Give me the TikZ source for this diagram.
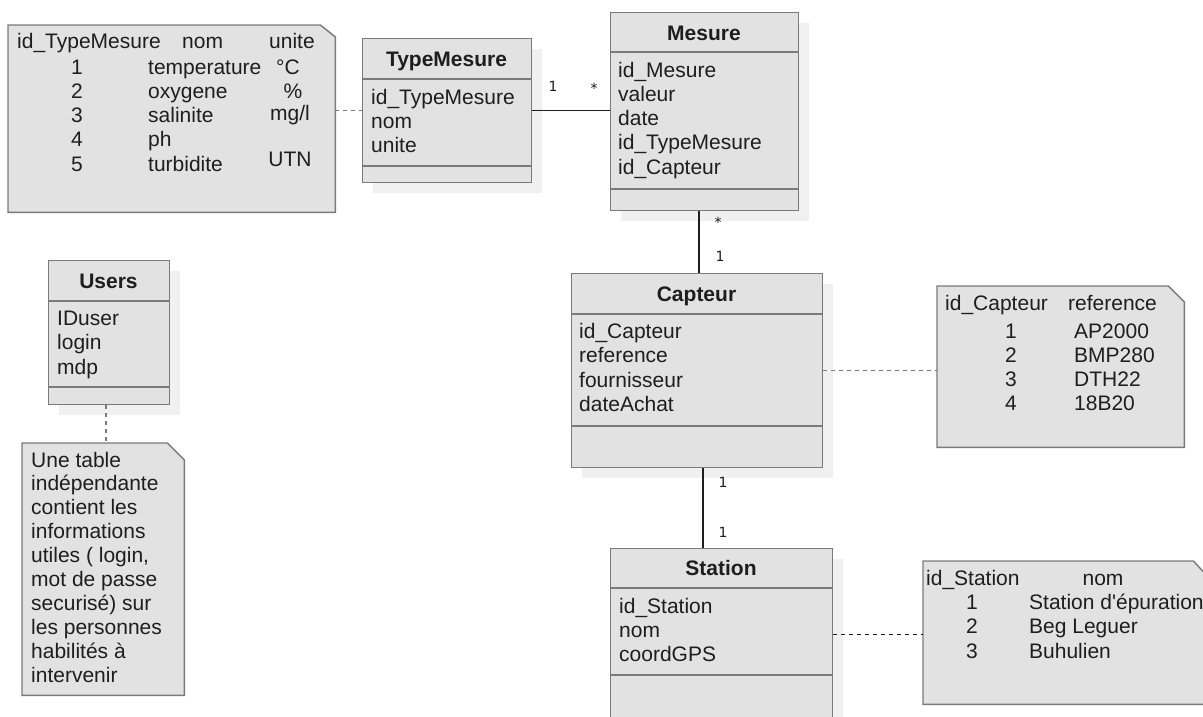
\documentclass[tikz,border=0pt]{standalone}
\usepackage{fontspec}
\setmainfont{Liberation Sans}
\newfontfamily\multfont{DejaVu Sans}
\usepackage{tikz}
\usetikzlibrary{shadows}

\definecolor{fond}{HTML}{E2E2E2}
\definecolor{bord}{HTML}{7A7A7A}
\definecolor{encre}{HTML}{1E1E1E}

\tikzset{
   classe/.style={draw=bord, line width=1.4pt, fill=fond, inner sep=0pt, anchor=north west,
      drop shadow={shadow xshift=10pt, shadow yshift=-10pt, fill=black!6, opacity=1}},
   sep/.style={draw=bord, line width=1.4pt},
   titre/.style={font=\fontsize{21}{24}\selectfont\bfseries, text=encre, anchor=base, inner sep=0pt},
   attr/.style={font=\fontsize{21}{24}\selectfont, text=encre, anchor=base west, inner sep=0pt},
   centre/.style={attr, anchor=base},
   note/.style={inner sep=0pt, anchor=north west},
   bordnote/.style={draw=bord, line width=1.4pt, fill=fond},
   assoc/.style={draw=encre, line width=1.4pt},
   lien/.style={draw=bord, line width=1.2pt, dash pattern=on 4pt off 4pt},
   mult/.style={font=\multfont\fontsize{14}{16}\selectfont, text=encre, inner sep=0pt}
}

\begin{document}
\begin{tikzpicture}[x=1pt, y=-1pt]
   \useasboundingbox (0,0) rectangle (1203,716);
   \fill[white] (0,0) rectangle (1203,716);
   \clip (0,0) rectangle (1203,716);
   %classes
   \node[classe, minimum width=169pt, minimum height=144pt] (typemesure) at (362,38) {};
   \draw[sep] (362,79) -- (531,79);
   \draw[sep] (362,166) -- (531,166);
   \node[titre] (tm-t) at (446.5,66) {TypeMesure};
   \node[attr] (tm-a1) at (371,104) {id\_TypeMesure};
   \node[attr] (tm-a2) at (371,128) {nom};
   \node[attr] (tm-a3) at (371,152) {unite};

   \node[classe, minimum width=188pt, minimum height=198pt] (mesure) at (610,12) {};
   \draw[sep] (610,52) -- (798,52);
   \draw[sep] (610,189) -- (798,189);
   \node[titre] (me-t) at (704,40) {Mesure};
   \foreach \att [count=\i] in {id\_Mesure,valeur,date,id\_TypeMesure,id\_Capteur}
      \node[attr] (me-a\i) at (618,{52.7+24.3*\i}) {\att};

   \node[classe, minimum width=121pt, minimum height=144pt] (users) at (48,260) {};
   \draw[sep] (48,301) -- (169,301);
   \draw[sep] (48,387) -- (169,387);
   \node[titre] (us-t) at (108.5,288) {Users};
   \foreach \att [count=\i] in {IDuser,login,mdp}
      \node[attr] (us-a\i) at (57,{300.5+24.5*\i}) {\att};

   \node[classe, minimum width=251pt, minimum height=194pt] (capteur) at (571,273) {};
   \draw[sep] (571,314) -- (822,314);
   \draw[sep] (571,426) -- (822,426);
   \node[titre] (ca-t) at (696.5,301) {Capteur};
   \foreach \att [count=\i] in {id\_Capteur,reference,fournisseur,dateAchat}
      \node[attr] (ca-a\i) at (579,{313.5+24.6*\i}) {\att};

   \node[classe, minimum width=222pt, minimum height=172pt] (station) at (610,548) {};
   \draw[sep] (610,588) -- (832,588);
   \draw[sep] (610,675) -- (832,675);
   \node[titre] (st-t) at (721,575) {Station};
   \foreach \att [count=\i] in {id\_Station,nom,coordGPS}
      \node[attr] (st-a\i) at (619,{588.7+24.3*\i}) {\att};

   %notes
   \node[note, minimum width=327pt, minimum height=187pt] (notetype) at (8,25) {};
   \draw[bordnote] (notetype.north west) -- ([xshift=-15pt]notetype.north east)
      -- ([yshift=-12pt]notetype.north east) -- (notetype.south east)
      -- (notetype.south west) -- cycle;
   \node[attr] (nt-h1) at (17,48) {id\_TypeMesure};
   \node[attr] (nt-h2) at (182,48) {nom};
   \node[attr] (nt-h3) at (269,48) {unite};
   \foreach \num/\nom [count=\i] in {1/temperature,2/oxygene,3/salinite,4/ph,5/turbidite}
   {
      \node[centre] (nt-n\i) at (77,{49.75+24.25*\i}) {\num};
      \node[attr] (nt-m\i) at (148,{49.75+24.25*\i}) {\nom};
   }
   \node[centre] (nt-u1) at (288,74) {°C};
   \node[centre] (nt-u2) at (293,98) {\%};
   \node[centre] (nt-u3) at (290,120) {mg/l};
   \node[centre] (nt-u5) at (290,166) {UTN};

   \node[note, minimum width=162pt, minimum height=252pt] (noteusers) at (22,443) {};
   \draw[bordnote] (noteusers.north west) -- ([xshift=-17pt]noteusers.north east)
      -- ([yshift=-17pt]noteusers.north east) -- (noteusers.south east)
      -- (noteusers.south west) -- cycle;
   \foreach \ligne [count=\i] in {Une table,indépendante,contient les,informations,
      {utiles ( login,},mot de passe,securisé) sur,les personnes,habilités à,intervenir}
      \node[attr] (nu-\i) at (31,{443.1+23.9*\i}) {\ligne};

   \node[note, minimum width=247pt, minimum height=161pt] (notecapteur) at (937,286) {};
   \draw[bordnote] (notecapteur.north west) -- ([xshift=-16pt]notecapteur.north east)
      -- ([yshift=-16pt]notecapteur.north east) -- (notecapteur.south east)
      -- (notecapteur.south west) -- cycle;
   \node[attr] (nc-h1) at (945,310) {id\_Capteur};
   \node[attr] (nc-h2) at (1068,310) {reference};
   \foreach \num/\ref [count=\i] in {1/AP2000,2/BMP280,3/DTH22,4/18B20}
   {
      \node[centre] (nc-n\i) at (1011,{313.7+24.3*\i}) {\num};
      \node[attr] (nc-r\i) at (1074,{313.7+24.3*\i}) {\ref};
   }

   \node[note, minimum width=283pt, minimum height=143pt] (notestation) at (923,561) {};
   \draw[bordnote] (notestation.north west) -- ([xshift=-13pt]notestation.north east)
      -- ([yshift=-14pt]notestation.north east) -- (notestation.south east)
      -- (notestation.south west) -- cycle;
   \node[attr] (ns-h1) at (926,585) {id\_Station};
   \node[centre] (ns-h2) at (1103,585) {nom};
   \foreach \num/\nom [count=\i] in {1/Station d\textquotesingle épuration,2/Beg Leguer,3/Buhulien}
   {
      \node[centre] (ns-n\i) at (972,{584.5+24.5*\i}) {\num};
      \node[attr] (ns-m\i) at (1029,{584.5+24.5*\i}) {\nom};
   }

   %associations
   \coordinate (axe1) at (699,0);
   \coordinate (axe2) at (703,0);
   \coordinate (axe3) at (106,0);
   \draw[assoc] (typemesure.east) -- (typemesure.east -| mesure.west);
   \draw[assoc] (mesure.south -| axe1) -- (capteur.north -| axe1);
   \draw[assoc] (capteur.south -| axe2) -- (station.north -| axe2);
   \node[mult] (m1) at (553,86) {1};
   \node[mult] (m2) at (594,88) {*};
   \node[mult] (m3) at (718,222) {*};
   \node[mult] (m4) at (720,256) {1};
   \node[mult] (m5) at (723,482) {1};
   \node[mult] (m6) at (723,532) {1};

   %liens vers les notes
   \draw[lien] (typemesure.west -| notetype.east) -- (typemesure.west);
   \draw[lien] (users.south -| axe3) -- (noteusers.north -| axe3);
   \draw[lien] (capteur.east) -- (capteur.east -| notecapteur.west);
   \draw[lien, draw=encre] (station.east) -- (station.east -| notestation.west);
\end{tikzpicture}
\end{document}
